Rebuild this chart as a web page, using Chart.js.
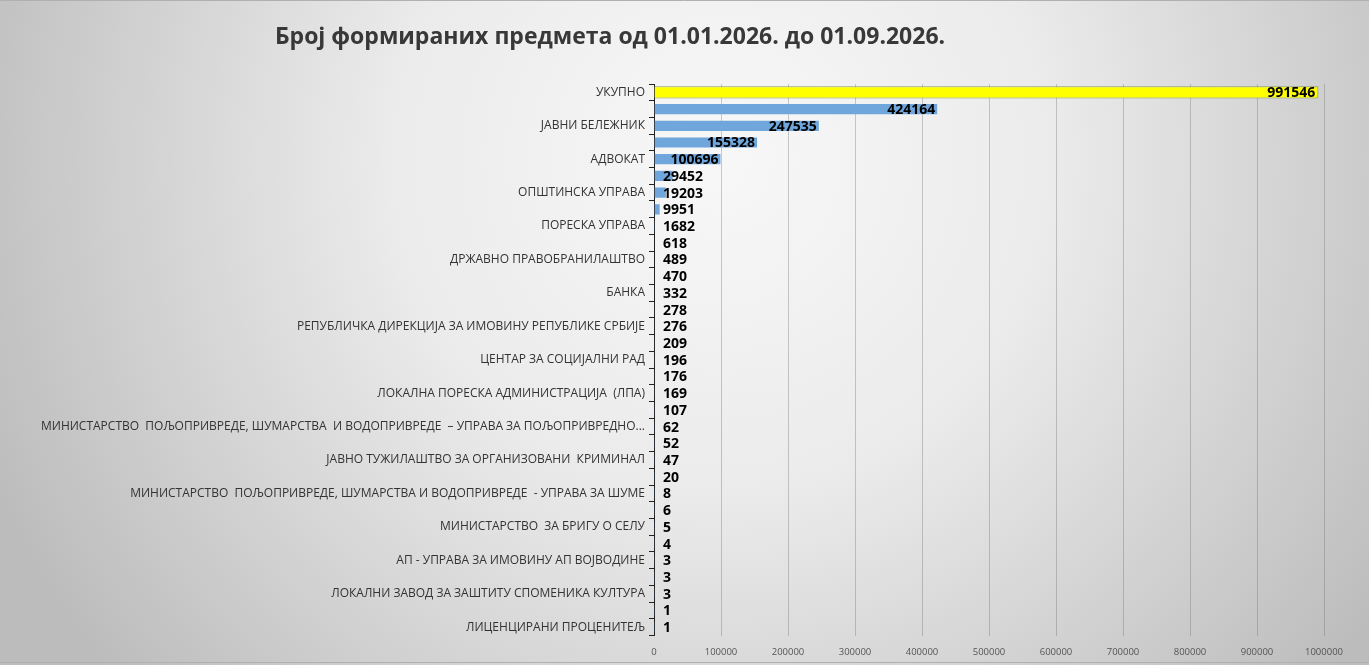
<!DOCTYPE html>
<html>
<head>
<meta charset="utf-8">
<script src="https://cdn.jsdelivr.net/npm/chart.js@4.4.1/dist/chart.umd.min.js"></script>
<style>
  html, body { margin: 0; padding: 0; background: #e6e6e6; }
  #wrap { width: 1369px; height: 665px; position: relative; }
</style>
</head>
<body>
<div id="wrap"><canvas id="Predmeti"></canvas></div>
<script>
// labels for every second category are not shown in the picture
const categories = [
  "УКУПНО",
  "",
  "ЈАВНИ БЕЛЕЖНИК",
  "",
  "АДВОКАТ",
  "",
  "ОПШТИНСКА УПРАВА",
  "",
  "ПОРЕСКА УПРАВА",
  "",
  "ДРЖАВНО ПРАВОБРАНИЛАШТВО",
  "",
  "БАНКА",
  "",
  "РЕПУБЛИЧКА ДИРЕКЦИЈА ЗА ИМОВИНУ РЕПУБЛИКЕ СРБИЈЕ",
  "",
  "ЦЕНТАР ЗА СОЦИЈАЛНИ РАД",
  "",
  "ЛОКАЛНА ПОРЕСКА АДМИНИСТРАЦИЈА  (ЛПА)",
  "",
  "МИНИСТАРСТВО  ПОЉОПРИВРЕДЕ, ШУМАРСТВА  И ВОДОПРИВРЕДЕ  – УПРАВА ЗА ПОЉОПРИВРЕДНО...",
  "",
  "ЈАВНО ТУЖИЛАШТВО ЗА ОРГАНИЗОВАНИ  КРИМИНАЛ",
  "",
  "МИНИСТАРСТВО  ПОЉОПРИВРЕДЕ, ШУМАРСТВА И ВОДОПРИВРЕДЕ  - УПРАВА ЗА ШУМЕ",
  "",
  "МИНИСТАРСТВО  ЗА БРИГУ О СЕЛУ",
  "",
  "АП - УПРАВА ЗА ИМОВИНУ АП ВОЈВОДИНЕ",
  "",
  "ЛОКАЛНИ ЗАВОД ЗА ЗАШТИТУ СПОМЕНИКА КУЛТУРА",
  "",
  "ЛИЦЕНЦИРАНИ ПРОЦЕНИТЕЉ"
];

const counts = [
  991546, 424164, 247535, 155328, 100696, 29452, 19203, 9951, 1682, 618,
  489, 470, 332, 278, 276, 209, 196, 176, 169, 107,
  62, 52, 47, 20, 8, 6, 5, 4, 3, 3,
  3, 1, 1
];

const xTicks = [0, 100000, 200000, 300000, 400000, 500000, 600000, 700000, 800000, 900000, 1000000];

const title = "Број формираних предмета од 01.01.2026. до 01.09.2026.";

const barColors = counts.map((v, i) => (i === 0 ? "#FFFF00" : "#6FA6DB"));
const barBorders = counts.map((v, i) => (i === 0 ? "#8C9A62" : "rgba(111,166,219,0)"));

// background gradient, frame lines and title
const backdrop = {
  id: "backdrop",
  beforeDraw(chart) {
    const c = chart.ctx;
    const w = chart.width, h = chart.height;
    c.save();
    let g = c.createRadialGradient(720, 160, 20, 720, 160, 800);
    g.addColorStop(0, "#f7f7f7");
    g.addColorStop(0.4, "#ebebeb");
    g.addColorStop(1, "#bcbcbc");
    c.fillStyle = g;
    c.fillRect(0, 0, w, h);
    c.strokeStyle = "#b0b0b0";
    c.lineWidth = 1;
    c.beginPath();
    c.moveTo(0, 0.5); c.lineTo(w, 0.5);
    c.moveTo(0, 662.5); c.lineTo(w, 662.5);
    c.stroke();
    c.fillStyle = "#383838";
    c.font = "bold 23px 'Open Sans'";
    c.textAlign = "center";
    c.textBaseline = "middle";
    c.fillText(title, 610, 37);
    c.restore();
  }
};

// value labels at the end of each bar, never left of the axis
const valueLabels = {
  id: "valueLabels",
  afterDatasetsDraw(chart) {
    const c = chart.ctx;
    const meta = chart.getDatasetMeta(0);
    const left = chart.chartArea.left;
    c.save();
    c.font = "bold 14px 'Open Sans'";
    c.fillStyle = "#000";
    c.textAlign = "left";
    c.textBaseline = "middle";
    meta.data.forEach((bar, i) => {
      const txt = String(counts[i]);
      const tw = c.measureText(txt).width;
      const x = Math.max(bar.x - 3 - tw, left + 9);
      c.fillText(txt, x, bar.y + 1);
    });
    c.restore();
  }
};

let ctx = document.getElementById("Predmeti").getContext("2d");
let Predmeti = new Chart(ctx, {
  type: "bar",
  data: {
    labels: categories,
    datasets: [
      {
        data: counts,
        backgroundColor: barColors,
        borderColor: barBorders,
        borderWidth: 1,
        barPercentage: 0.73,
        categoryPercentage: 1.0,
      },
    ],
  },
  options: {
    indexAxis: "y",
    responsive: true,
    maintainAspectRatio: false,
    animation: false,
    layout: {
      padding: { top: 84, right: 45, left: 0, bottom: 0 },
    },
    plugins: {
      legend: { display: false },
      tooltip: { enabled: false },
      title: { display: false },
    },
    scales: {
      x: {
        min: 0,
        max: 1000000,
        afterBuildTicks: (scale) => {
          scale.ticks = xTicks.map((v) => ({ value: v }));
        },
        afterFit: (scale) => {
          scale.height = 29.5;
        },
        grid: {
          color: "rgba(110,110,110,0.35)",
          drawTicks: false,
        },
        border: { display: false },
        ticks: {
          padding: 11,
          color: "#555",
          font: { family: "'Open Sans'", size: 9.5 },
          callback: (v) => String(v),
        },
      },
      y: {
        afterFit: (scale) => {
          scale.width = 654;
        },
        grid: {
          drawOnChartArea: false,
          drawTicks: true,
          tickLength: 5,
          color: "#222",
          offset: true,
        },
        border: { display: true, color: "#222", width: 1 },
        ticks: {
          autoSkip: false,
          padding: 4,
          color: "#333",
          font: { family: "'Open Sans'", size: 12 },
        },
      },
    },
  },
  plugins: [backdrop, valueLabels],
});
</script>
</body>
</html>
